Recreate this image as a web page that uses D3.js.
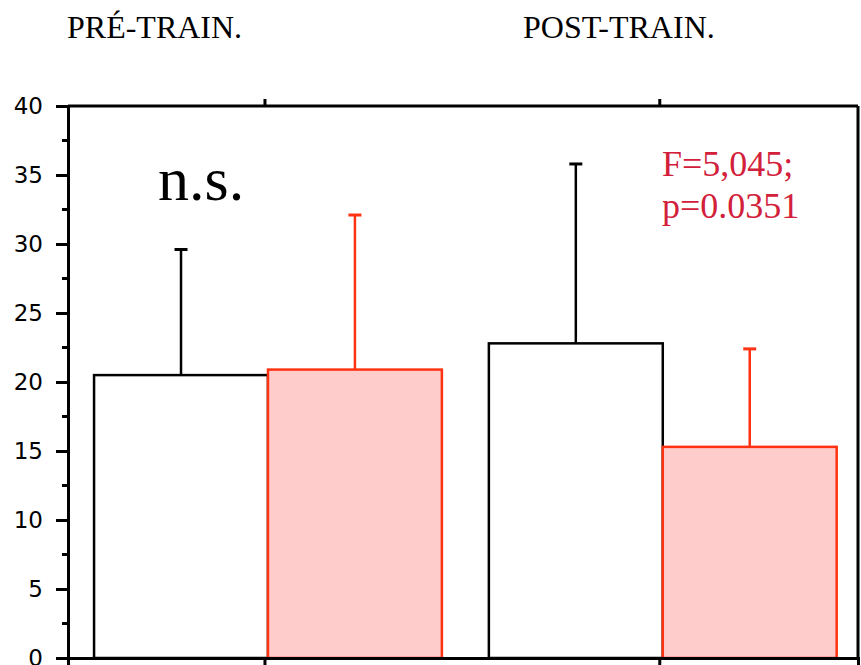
<!DOCTYPE html>
<html>
<head>
<meta charset="utf-8">
<script src="https://cdn.jsdelivr.net/npm/d3@7"></script>
<style>
  body { margin: 0; background: #fff; }
  svg { display: block; }
</style>
</head>
<body>
<div id="chart"></div>
<script>
// data
const groups = ["PRÉ-TRAIN.", "POST-TRAIN."];
const series = ["control", "trained"];
const controlMeans = [20.5, 22.8];
const controlErr = [9.1, 13.0];
const trainedMeans = [20.9, 15.3];
const trainedErr = [11.2, 7.1];
const yTicks = [0, 5, 10, 15, 20, 25, 30, 35, 40];
const statLines = ["F=5,045;", "p=0.0351"];

const width = 861, height = 665;
const margin = {top: 106, right: 3, bottom: 7, left: 68};
const innerW = width - margin.left - margin.right,
    innerH = height - margin.top - margin.bottom;

const stroke = {control: "#000", trained: "#ff3312"};
const fill = {control: "#fff", trained: "#ffcccc"};

const svg = d3.select("#chart").append("svg")
    .attr("width", width)
    .attr("height", height);

// group titles at the top
svg.append("text")
    .attr("x", 67).attr("y", 38)
    .style("font", "32px 'Liberation Serif', 'Times New Roman', serif")
    .text(groups[0]);
svg.append("text")
    .attr("x", 523).attr("y", 38)
    .style("font", "32px 'Liberation Serif', 'Times New Roman', serif")
    .text(groups[1]);

const g = svg.append("g")
    .attr("transform", "translate(" + margin.left + "," + margin.top + ")");

const x0 = d3.scaleBand()
    .domain(groups)
    .range([0, innerW])
    .paddingInner(0.119)
    .paddingOuter(0.06)
    .align(0.55);

const x1 = d3.scaleBand()
    .domain(series)
    .range([0, x0.bandwidth()]);

const y = d3.scaleLinear()
    .domain([0, 40])
    .range([innerH, 0]);

// build rows from the arrays
const rows = [];
for (let i = 0; i < groups.length; i++) {
    rows.push({group: groups[i], key: "control", mean: controlMeans[i], err: controlErr[i]});
    rows.push({group: groups[i], key: "trained", mean: trainedMeans[i], err: trainedErr[i]});
}

// error bars (upper only), drawn behind the bars
const capW = 13;
const eb = g.selectAll(".eb").data(rows).enter().append("g").attr("class", "eb");
eb.append("line")
    .attr("x1", d => x0(d.group) + x1(d.key) + x1.bandwidth() / 2)
    .attr("x2", d => x0(d.group) + x1(d.key) + x1.bandwidth() / 2)
    .attr("y1", d => y(d.mean))
    .attr("y2", d => y(d.mean + d.err))
    .attr("stroke", d => stroke[d.key])
    .attr("stroke-width", 2.5);
eb.append("line")
    .attr("x1", d => x0(d.group) + x1(d.key) + x1.bandwidth() / 2 - capW / 2)
    .attr("x2", d => x0(d.group) + x1(d.key) + x1.bandwidth() / 2 + capW / 2)
    .attr("y1", d => y(d.mean + d.err))
    .attr("y2", d => y(d.mean + d.err))
    .attr("stroke", d => stroke[d.key])
    .attr("stroke-width", 3);

// bars
g.selectAll(".bar").data(rows).enter().append("rect")
    .attr("class", "bar")
    .attr("x", d => x0(d.group) + x1(d.key))
    .attr("y", d => y(d.mean))
    .attr("width", x1.bandwidth())
    .attr("height", d => innerH - y(d.mean))
    .attr("fill", d => fill[d.key])
    .attr("stroke", d => stroke[d.key])
    .attr("stroke-width", 2.5);

// frame: top and right
g.append("line")
    .attr("x1", 0).attr("x2", innerW)
    .attr("y1", 0).attr("y2", 0)
    .attr("stroke", "#000").attr("stroke-width", 3);
g.append("line")
    .attr("x1", innerW).attr("x2", innerW)
    .attr("y1", 0).attr("y2", innerH)
    .attr("stroke", "#000").attr("stroke-width", 3);

// top ticks at the group centres
g.selectAll(".ttick").data(groups).enter().append("line")
    .attr("x1", d => x0(d) + x0.bandwidth() / 2 - 3)
    .attr("x2", d => x0(d) + x0.bandwidth() / 2 - 3)
    .attr("y1", 0).attr("y2", -7)
    .attr("stroke", "#000").attr("stroke-width", 3);

// bottom axis
const xAxis = g.append("g")
    .attr("transform", "translate(0," + innerH + ")")
    .call(d3.axisBottom(x0).tickSize(8).tickFormat(""));
xAxis.select(".domain").attr("stroke-width", 3);
xAxis.selectAll(".tick line").attr("stroke-width", 3)
    .attr("transform", "translate(-3,0)");

// minor ticks on y
const minor = d3.range(2.5, 40, 5);
g.selectAll(".minor").data(minor).enter().append("line")
    .attr("x1", -6).attr("x2", 0)
    .attr("y1", d => y(d)).attr("y2", d => y(d))
    .attr("stroke", "#000").attr("stroke-width", 3);

// left axis
const yAxis = g.append("g")
    .call(d3.axisLeft(y).tickValues(yTicks).tickSize(12).tickPadding(13));
yAxis.select(".domain").attr("stroke-width", 3);
yAxis.selectAll(".tick line").attr("stroke-width", 3);
yAxis.selectAll(".tick text")
    .style("font", "23px 'DejaVu Sans', Verdana, sans-serif")
    .attr("fill", "#000");

// annotations
g.append("text")
    .attr("x", 158 - margin.left).attr("y", 200 - margin.top)
    .style("font", "62px 'Liberation Serif', 'Times New Roman', serif")
    .text("n.s.");

g.selectAll(".stat").data(statLines).enter().append("text")
    .attr("class", "stat")
    .attr("x", 662 - margin.left)
    .attr("y", (d, i) => 176 - margin.top + i * 42)
    .attr("fill", "#d3203a")
    .style("font", "36px 'Liberation Serif', 'Times New Roman', serif")
    .text(d => d);
</script>
</body>
</html>
